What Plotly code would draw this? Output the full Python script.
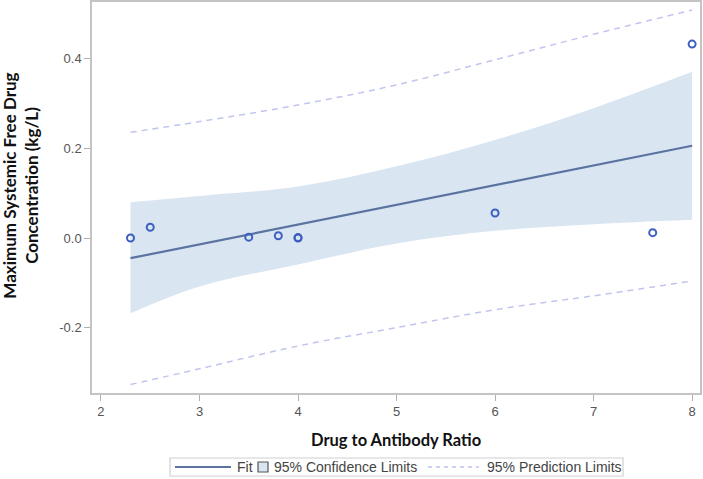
import plotly.graph_objects as go

# Observed data
dar = [2.3, 2.5, 3.5, 3.8, 4.0, 4.0, 6.0, 7.6, 8.0]
conc = [0.000, 0.024, 0.002, 0.005, 0.000, 0.001, 0.056, 0.012, 0.433]

# Fitted regression line (read at ends)
fit_x = [2.3, 8.0]
fit_y = [-0.045, 0.206]

# Band readings
band_x = [2.3, 3.0, 4.0, 5.0, 6.0, 7.0, 8.0]
ci_upper = [0.080, 0.094, 0.115, 0.160, 0.219, 0.290, 0.371]
ci_lower = [-0.168, -0.108, -0.059, -0.012, 0.016, 0.031, 0.041]
pi_upper = [0.236, 0.260, 0.297, 0.342, 0.398, 0.455, 0.509]
pi_lower = [-0.327, -0.292, -0.241, -0.200, -0.160, -0.129, -0.096]

x_ticks = [2, 3, 4, 5, 6, 7, 8]
y_ticks = [-0.2, 0.0, 0.2, 0.4]
y_ticktext = ["-0.2", "0.0", "0.2", "0.4"]

legend_labels = ["Fit", "95% Confidence Limits", "95% Prediction Limits"]

band_color = "#dae5f2"
fit_color = "#5b73a1"
pt_color = "#3d5fc0"
pi_color = "#c0c5ee"

W, H = 703, 479
ML, MR, MT, MB = 92, 3, 2, 86
PW, PH = W - ML - MR, H - MT - MB


def px(xp):
    return (xp - ML) / PW


def py(yp):
    return 1 - (yp - MT) / PH


fig = go.Figure()

fig.add_trace(go.Scatter(x=band_x, y=ci_lower, mode="lines", line=dict(width=0, color=band_color, shape="spline"),
                         showlegend=False, hoverinfo="skip"))
fig.add_trace(go.Scatter(x=band_x, y=ci_upper, mode="lines", line=dict(width=0, color=band_color, shape="spline"),
                         fill="tonexty", fillcolor=band_color, name=legend_labels[1], showlegend=False))
fig.add_trace(go.Scatter(x=band_x, y=pi_upper, mode="lines",
                         line=dict(width=1.5, color=pi_color, dash="6px,5px", shape="spline"),
                         name=legend_labels[2], showlegend=False))
fig.add_trace(go.Scatter(x=band_x, y=pi_lower, mode="lines",
                         line=dict(width=1.5, color=pi_color, dash="6px,5px", shape="spline"),
                         showlegend=False))
fig.add_trace(go.Scatter(x=fit_x, y=fit_y, mode="lines", line=dict(width=2.2, color=fit_color),
                         name=legend_labels[0], showlegend=False))
fig.add_trace(go.Scatter(x=dar, y=conc, mode="markers",
                         marker=dict(symbol="circle-open", size=7, color=pt_color, line=dict(width=2, color=pt_color)),
                         showlegend=False, cliponaxis=False))

axis_common = dict(showline=True, linecolor="#c4c4c4", linewidth=1.5, mirror=True,
                   showgrid=False, zeroline=False, ticks="outside", ticklen=6,
                   tickcolor="#b0b0b0", tickwidth=1.2,
                   tickfont=dict(family="Liberation Sans", size=13, color="#555555"))

fig.update_xaxes(range=[1.909, 8.08], tickvals=x_ticks, **axis_common)
fig.update_yaxes(range=[-0.346, 0.527], tickvals=y_ticks, ticktext=y_ticktext, **axis_common)

# Manual legend (box, samples, labels)
leg_top, leg_bot = 458, 476
leg_mid = (leg_top + leg_bot) / 2
shapes = [
    dict(type="rect", xref="paper", yref="paper", x0=px(170), x1=px(623), y0=py(leg_bot), y1=py(leg_top),
         line=dict(color="#d0d0d0", width=1.2), fillcolor="white", layer="above"),
    dict(type="line", xref="paper", yref="paper", x0=px(175), x1=px(231), y0=py(leg_mid), y1=py(leg_mid),
         line=dict(color=fit_color, width=2.2)),
    dict(type="rect", xref="paper", yref="paper", x0=px(258), x1=px(268), y0=py(leg_mid + 5), y1=py(leg_mid - 5),
         line=dict(color="#555555", width=1.2), fillcolor=band_color),
    dict(type="line", xref="paper", yref="paper", x0=px(428), x1=px(479), y0=py(leg_mid), y1=py(leg_mid),
         line=dict(color=pi_color, width=1.5, dash="4px,4px")),
]
leg_font = dict(family="Liberation Sans", size=14, color="#444444")
leg_annots = [
    dict(text=legend_labels[0], xref="paper", yref="paper", x=px(235), y=py(leg_mid), xanchor="left",
         yanchor="middle", showarrow=False, font=leg_font),
    dict(text=legend_labels[1], xref="paper", yref="paper", x=px(272), y=py(leg_mid), xanchor="left",
         yanchor="middle", showarrow=False, font=leg_font),
    dict(text=legend_labels[2], xref="paper", yref="paper", x=px(485), y=py(leg_mid), xanchor="left",
         yanchor="middle", showarrow=False, font=leg_font),
]

fig.update_layout(
    width=W, height=H,
    margin=dict(l=ML, r=MR, t=MT, b=MB, autoexpand=False),
    paper_bgcolor="white", plot_bgcolor="white",
    showlegend=False,
    shapes=shapes,
    annotations=[
        dict(text="Drug to Antibody Ratio", xref="paper", yref="paper", x=0.5, y=py(440),
             xanchor="center", yanchor="middle", showarrow=False,
             font=dict(family="Lato", size=16.5, color="#111111", weight="bold")),
        dict(text="Maximum Systemic Free Drug<br>Concentration (kg/L)", xref="paper", yref="paper",
             x=-0.117, y=0.53, xanchor="center", yanchor="middle", showarrow=False, textangle=-90,
             font=dict(family="Lato", size=17, color="#111111", weight="bold")),
    ] + leg_annots,
)

fig.write_html("out.html", config={"displayModeBar": False},
               post_script="document.body.style.margin='0';document.body.style.overflow='hidden';")
